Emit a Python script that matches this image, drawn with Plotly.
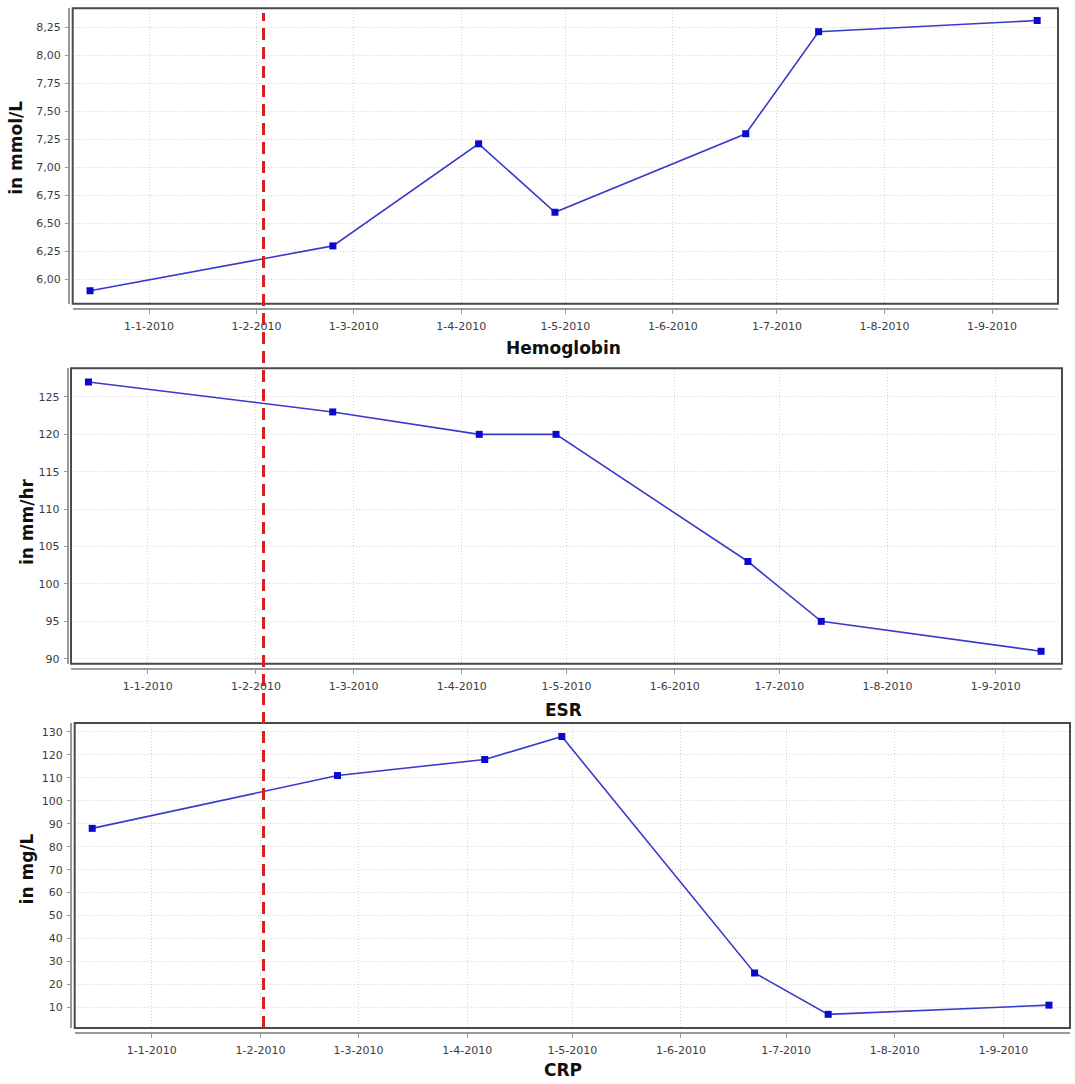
import plotly.graph_objects as go

# ---- data ----
DATES = ["2009-12-15", "2010-02-23", "2010-04-06", "2010-04-28",
         "2010-06-22", "2010-07-13", "2010-09-14"]
HEMOGLOBIN = [5.90, 6.30, 7.21, 6.60, 7.30, 8.21, 8.31]
ESR = [127, 123, 120, 120, 103, 95, 91]
CRP = [88, 111, 118, 128, 25, 7, 11]

EVENT_DATE = "2010-02-03"

X_TICK_VALS = ["2010-01-01", "2010-02-01", "2010-03-01", "2010-04-01", "2010-05-01",
               "2010-06-01", "2010-07-01", "2010-08-01", "2010-09-01"]
X_TICK_TEXT = ["1-1-2010", "1-2-2010", "1-3-2010", "1-4-2010", "1-5-2010",
               "1-6-2010", "1-7-2010", "1-8-2010", "1-9-2010"]
X_RANGE = ["2009-12-10", "2010-09-20"]

HB_TICK_VALS = [6.00, 6.25, 6.50, 6.75, 7.00, 7.25, 7.50, 7.75, 8.00, 8.25]
HB_TICK_TEXT = ["6,00", "6,25", "6,50", "6,75", "7,00", "7,25", "7,50", "7,75", "8,00", "8,25"]
ESR_TICK_VALS = [90, 95, 100, 105, 110, 115, 120, 125]
ESR_TICK_TEXT = ["90", "95", "100", "105", "110", "115", "120", "125"]
CRP_TICK_VALS = [10, 20, 30, 40, 50, 60, 70, 80, 90, 100, 110, 120, 130]
CRP_TICK_TEXT = [str(v) for v in CRP_TICK_VALS]

PANEL_TITLES = ["Hemoglobin", "ESR", "CRP"]
UNIT_TITLES = ["in mmol/L", "in mm/hr", "in mg/L"]

# ---- layout geometry (pixels of a 1075 x 1084 page) ----
W, H = 1075, 1084
def px(x):
    return x / W
def py(y):
    return 1 - y / H

panels = [
    dict(y=HEMOGLOBIN, ticks=(HB_TICK_VALS, HB_TICK_TEXT), yrange=[5.784, 8.419],
         xdom=(72.7, 1058), ydom=(8.3, 304.3), xaxis_y=309.3, yaxis_x=69,
         xtitle_y=348.5, ytitle=(16, 148)),
    dict(y=ESR, ticks=(ESR_TICK_VALS, ESR_TICK_TEXT), yrange=[89.33, 128.83],
         xdom=(71, 1062), ydom=(369, 665), xaxis_y=670, yaxis_x=67.7,
         xtitle_y=711, ytitle=(27, 523)),
    dict(y=CRP, ticks=(CRP_TICK_VALS, CRP_TICK_TEXT), yrange=[1.0, 133.9],
         xdom=(74.7, 1070), ydom=(724.3, 1030), xaxis_y=1035, yaxis_x=71,
         xtitle_y=1072, ytitle=(27, 871)),
]

TICK_FONT = dict(family="DejaVu Sans", size=11, color="#3c3c3c")
TITLE_FONT = dict(family="DejaVu Sans", size=17, color="#111111")
GRID = "#d4d4d4"
AXIS = "#9a9a9a"
FRAME = "#4a4a4a"

fig = go.Figure()
layout = dict(width=W, height=H, margin=dict(l=0, r=0, t=0, b=0),
              paper_bgcolor="white", plot_bgcolor="white", showlegend=False)
shapes = []
annotations = []

for i, p in enumerate(panels):
    n = "" if i == 0 else str(i + 1)
    xa, ya = "x" + n, "y" + n
    fig.add_trace(go.Scatter(
        x=DATES, y=p["y"], mode="lines+markers", xaxis=xa, yaxis=ya,
        line=dict(color="#3a3acb", width=1.6),
        marker=dict(symbol="square", size=7, color="#0a0acc"),
        cliponaxis=False, hoverinfo="skip"))
    layout["xaxis" + n] = dict(
        domain=[px(p["xdom"][0]), px(p["xdom"][1])],
        anchor="free", position=py(p["xaxis_y"]),
        type="date", range=X_RANGE,
        tickvals=X_TICK_VALS, ticktext=X_TICK_TEXT, tickfont=TICK_FONT,
        ticks="outside", ticklen=4, tickcolor=AXIS, tickwidth=1,
        showline=True, linecolor=AXIS, linewidth=2,
        showgrid=True, gridcolor=GRID, griddash="1px,2px", gridwidth=1,
        zeroline=False, fixedrange=True, ticklabelstandoff=3)
    layout["yaxis" + n] = dict(
        domain=[py(p["ydom"][1]), py(p["ydom"][0])],
        anchor="free", position=px(p["yaxis_x"]),
        range=p["yrange"],
        tickvals=p["ticks"][0], ticktext=p["ticks"][1], tickfont=TICK_FONT,
        ticks="outside", ticklen=3, tickcolor=AXIS, tickwidth=1,
        showline=True, linecolor=AXIS, linewidth=2,
        showgrid=True, gridcolor=GRID, griddash="1px,2px", gridwidth=1,
        zeroline=False, fixedrange=True, ticklabelstandoff=2)
    # plot frame
    shapes.append(dict(type="rect", xref=xa + " domain", yref=ya + " domain",
                       x0=0, x1=1, y0=0, y1=1,
                       line=dict(color=FRAME, width=2), layer="above"))
    annotations.append(dict(text="<b>%s</b>" % PANEL_TITLES[i], xref="paper", yref="paper",
                            x=px(563), y=py(p["xtitle_y"]), showarrow=False,
                            xanchor="center", yanchor="middle", font=TITLE_FONT))
    annotations.append(dict(text="<b>%s</b>" % UNIT_TITLES[i], xref="paper", yref="paper",
                            x=px(p["ytitle"][0]), y=py(p["ytitle"][1]), showarrow=False,
                            textangle=-90, xanchor="center", yanchor="middle",
                            font=TITLE_FONT))

# event marker: red dashed vertical line across all panels
shapes.append(dict(type="line", xref="x", yref="paper",
                   x0=EVENT_DATE, x1=EVENT_DATE, y0=py(1030), y1=py(13),
                   line=dict(color="#d42020", width=3, dash="12px,7px"), layer="above"))

layout["shapes"] = shapes
layout["annotations"] = annotations
layout["hovermode"] = False
fig.update_layout(**layout)
fig.write_html("out.html", config={"displayModeBar": False, "staticPlot": True},
               post_script="document.body.style.margin='0';document.body.style.overflow='hidden';")
